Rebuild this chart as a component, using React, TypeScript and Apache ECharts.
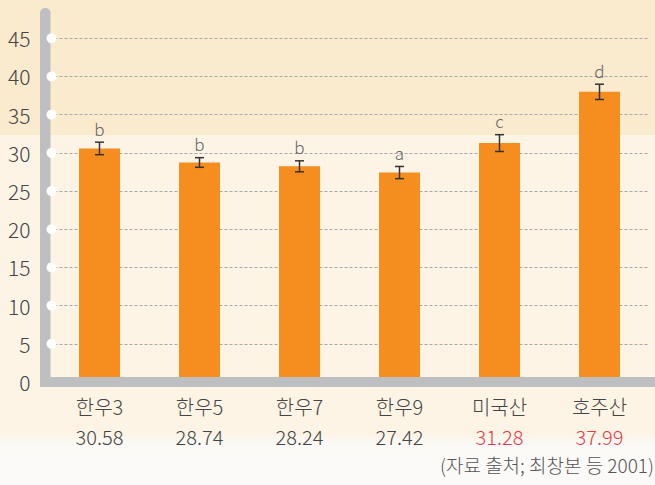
import React, { useEffect, useRef } from "react";
import * as echarts from "echarts";

const categories = ["한우3", "한우5", "한우7", "한우9", "미국산", "호주산"];
const values = [30.58, 28.74, 28.24, 27.42, 31.28, 37.99];
const errors = [0.82, 0.63, 0.72, 0.8, 1.1, 1.0];
const letters = ["b", "b", "b", "a", "c", "d"];
const highlighted = [false, false, false, false, true, true];
const yTicks = [5, 10, 15, 20, 25, 30, 35, 40, 45];
const sourceNote = "(자료 출처; 최창본 등 2001)";

const FONT = '"Noto Sans CJK KR", "Noto Sans", sans-serif';
const FW = 300;

export default function App() {
  const ref = useRef<HTMLDivElement>(null);
  useEffect(() => {
    if (!ref.current) return;
    document.body.style.margin = "0";
    const chart = echarts.init(ref.current, undefined, { renderer: "svg" });
    const errData = values.map((v, i) => [i, v, errors[i], letters[i]]);
    chart.setOption({
      animation: false,
      backgroundColor: "#FDF4E6",
      textStyle: { fontFamily: FONT, fontWeight: FW },
      grid: { left: 49.5, right: 5.5, top: 38.3, bottom: 103 },
      graphic: [
        { type: "rect", z: -10, silent: true, shape: { x: 0, y: 0, width: 655, height: 135 }, style: { fill: "#FAEACE" } },
        {
          type: "rect", z: -10, silent: true, shape: { x: 0, y: 436, width: 655, height: 49 },
          style: {
            fill: new echarts.graphic.LinearGradient(0, 0, 0, 1, [
              { offset: 0, color: "#FCF6EC" },
              { offset: 0.2, color: "#FBFAF7" },
              { offset: 1, color: "#FBFAF8" },
            ]),
          },
        },
        { type: "rect", z: 50, silent: true, shape: { x: 40, y: 8, width: 10.5, height: 379, r: [5, 5, 0, 0] }, style: { fill: "#BEBFC1" } },
        { type: "rect", z: 50, silent: true, shape: { x: 40, y: 377, width: 615, height: 10 }, style: { fill: "#BEBFC1" } },
        {
          type: "text", z: 50, right: 1, top: 455,
          style: { text: sourceNote, fill: "#555", fontSize: 19, fontFamily: FONT, fontWeight: FW },
        },
      ],
      xAxis: {
        type: "category",
        data: categories,
        axisLine: { show: false },
        axisTick: { show: false },
        axisLabel: {
          margin: 9,
          formatter: (val: string, idx: number) =>
            `{n|${val}}\n{${highlighted[idx] ? "r" : "v"}|${values[idx].toFixed(2)}}`,
          rich: {
            n: { fontSize: 20, color: "#444", lineHeight: 30, fontFamily: FONT, fontWeight: FW },
            v: { fontSize: 20, color: "#444", lineHeight: 30, fontFamily: FONT, fontWeight: FW },
            r: { fontSize: 20, color: "#E8394A", lineHeight: 30, fontFamily: FONT, fontWeight: FW },
          },
        },
      },
      yAxis: {
        type: "value",
        min: 0,
        max: 45,
        interval: 5,
        axisLine: { show: false },
        axisTick: { show: false },
        axisLabel: { margin: 19, fontSize: 21, color: "#444", fontFamily: FONT, fontWeight: FW },
        splitLine: { show: true, lineStyle: { type: [3, 2], color: "#A9A9A9", width: 1 } },
      },
      series: [
        {
          type: "bar",
          data: values,
          barWidth: 41,
          itemStyle: { color: "#F58D1F" },
          z: 2,
        },
        {
          type: "custom",
          z: 60,
          data: errData,
          encode: { x: 0, y: 1 },
          renderItem: (params: any, api: any) => {
            const x = api.value(0);
            const v = api.value(1);
            const e = api.value(2);
            const top = api.coord([x, v + e]);
            const bot = api.coord([x, v - e]);
            const cx = top[0];
            const lineStyle = { stroke: "#333", lineWidth: 1.5 };
            return {
              type: "group",
              children: [
                { type: "line", shape: { x1: cx, y1: top[1], x2: cx, y2: bot[1] }, style: lineStyle },
                { type: "line", shape: { x1: cx - 4.5, y1: top[1], x2: cx + 4.5, y2: top[1] }, style: lineStyle },
                { type: "line", shape: { x1: cx - 4.5, y1: bot[1], x2: cx + 4.5, y2: bot[1] }, style: lineStyle },
                {
                  type: "text",
                  style: {
                    text: letters[params.dataIndex],
                    x: cx,
                    y: top[1] - 14,
                    align: "center",
                    verticalAlign: "middle",
                    fill: "#666",
                    fontSize: 17,
                    fontFamily: FONT,
                    fontWeight: FW,
                  },
                },
              ],
            };
          },
        },
        {
          type: "custom",
          z: 70,
          data: yTicks.map((t) => [0, t]),
          encode: { x: 0, y: 1 },
          renderItem: (params: any, api: any) => {
            const p = api.coord([0, api.value(1)]);
            return {
              type: "circle",
              shape: { cx: params.coordSys.x + 2, cy: p[1], r: 5 },
              style: { fill: "#FFFFFF" },
            };
          },
        },
      ],
    });
    return () => chart.dispose();
  }, []);
  return <div ref={ref} style={{ width: 655, height: 485 }} />;
}
